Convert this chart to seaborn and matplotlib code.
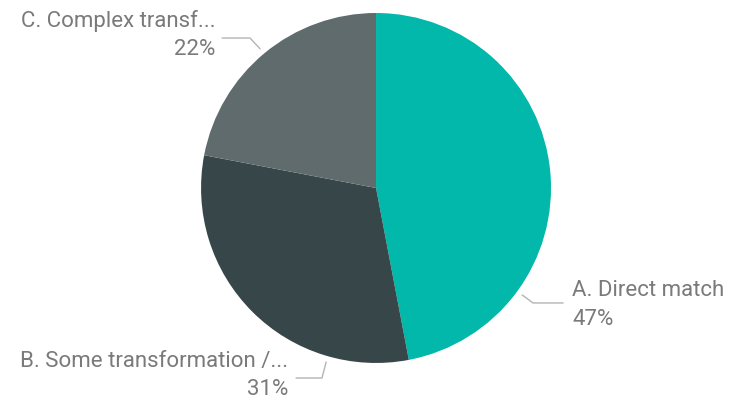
import matplotlib
matplotlib.use("Agg")
import matplotlib.pyplot as plt
import numpy as np
import seaborn as sns

# Data
categories = ["A. Direct match", "B. Some transformation /...", "C. Complex transf..."]
shares = [47, 31, 22]
colors = ["#01B8AA", "#374649", "#5F6B6D"]

sns.set_theme(style="white")
plt.rcParams["font.family"] = ["Roboto", "DejaVu Sans"]

fig = plt.figure(figsize=(7.33, 4.01), dpi=100)
ax = fig.add_axes([0, 0, 1, 1])

wedges, _ = ax.pie(shares, colors=colors, startangle=90, counterclock=False,
                   radius=1, wedgeprops=dict(linewidth=0))

# pie() resets the limits, so set the view afterwards
ax.set_xlim(-2.149, 2.04)
ax.set_ylim(-1.217, 1.074)
ax.set_aspect("equal")
ax.axis("off")

total = sum(shares)
pcts = [f"{v / total * 100:.0f}%" for v in shares]

text_color = "#7a7a7a"
line_color = "#b4b4b4"
fs = 16

# Leader lines: start angle on the rim, elbow, end; label anchor
layouts = [
    # A
    dict(angle=-36.2, elbow=(0.897, -0.657), end=(1.069, -0.657),
         tx=1.12, ty=(-0.583, -0.749), ha="left"),
    # B
    dict(angle=254.0, elbow=(-0.309, -1.086), end=(-0.457, -1.086),
         tx=-0.503, ty=(-0.994, -1.154), ha="right"),
    # C
    dict(angle=129.8, elbow=(-0.72, 0.857), end=(-0.88, 0.857),
         tx=-0.92, ty=(0.954, 0.794), ha="right"),
]

for cat, pct, lay in zip(categories, pcts, layouts):
    a = np.deg2rad(lay["angle"])
    r = 1.035
    sx, sy = r * np.cos(a), r * np.sin(a)
    xs = [sx, lay["elbow"][0], lay["end"][0]]
    ys = [sy, lay["elbow"][1], lay["end"][1]]
    ax.plot(xs, ys, color=line_color, lw=1.0, clip_on=False)
    ax.text(lay["tx"], lay["ty"][0], cat, ha=lay["ha"], va="center",
            color=text_color, fontsize=fs, clip_on=False)
    ax.text(lay["tx"], lay["ty"][1], pct, ha=lay["ha"], va="center",
            color=text_color, fontsize=fs, clip_on=False)

fig.savefig("out.png", dpi=100, facecolor="white")
